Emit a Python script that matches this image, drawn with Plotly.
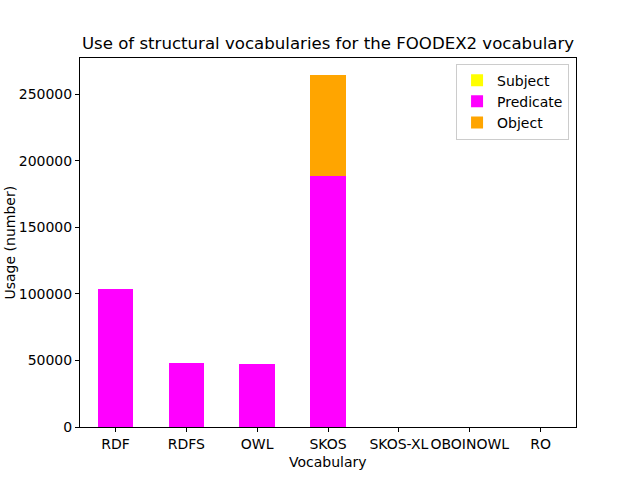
import plotly.graph_objects as go

categories = ["RDF", "RDFS", "OWL", "SKOS", "SKOS-XL", "OBOINOWL", "RO"]
subject = [0, 0, 0, 0, 0, 0, 0]
predicate = [104000, 48400, 47700, 188700, 0, 0, 0]
obj = [0, 0, 0, 75800, 0, 0, 0]
y_ticks = [0, 50000, 100000, 150000, 200000, 250000]

FONT = "DejaVu Sans"
fig = go.Figure()
for name, vals, color in [("Subject", subject, "#ffff00"),
                          ("Predicate", predicate, "#ff00ff"),
                          ("Object", obj, "#ffa500")]:
    fig.add_trace(go.Bar(x=list(range(len(categories))), y=vals, name=name,
                         marker=dict(color=color, line=dict(width=0)), width=0.5))

fig.update_layout(
    barmode="stack",
    width=640, height=480,
    margin=dict(l=80, r=64, t=58, b=53, autoexpand=False),
    paper_bgcolor="white", plot_bgcolor="white",
    font=dict(family=FONT, size=14, color="black"),
    title=dict(text="Use of structural vocabularies for the FOODEX2 vocabulary",
               x=(80 + 576) / 2 / 640, xanchor="center", y=1 - 43 / 480, yanchor="middle",
               font=dict(size=16.6, family=FONT, color="black")),
    showlegend=True,
    legend=dict(x=0.986, xanchor="right", y=0.985, yanchor="top",
                bordercolor="#cccccc", borderwidth=1, bgcolor="rgba(255,255,255,0.8)",
                font=dict(size=14, family=FONT), traceorder="normal", tracegroupgap=0),
    xaxis=dict(range=[-0.5, 6.5], tickmode="array", tickvals=list(range(len(categories))),
               ticktext=categories, tickangle=0, showline=True, linecolor="black", linewidth=1,
               mirror=True, ticks="outside", ticklen=4, tickcolor="black", showgrid=False,
               zeroline=False, automargin=False),
    yaxis=dict(range=[0, 277200], tickmode="array", tickvals=y_ticks,
               ticktext=[str(v) for v in y_ticks], showline=True, linecolor="black", linewidth=1,
               mirror=True, ticks="outside", ticklen=4, tickcolor="black", showgrid=False,
               zeroline=False, automargin=False),
    annotations=[
        dict(text="Vocabulary", xref="paper", yref="paper", x=0.5, y=-(462 - 427) / 369,
             xanchor="center", yanchor="middle", showarrow=False, font=dict(size=14, family=FONT)),
        dict(text="Usage (number)", xref="paper", yref="paper", x=-(80 - 9) / 496,
             y=0.5, xanchor="center", yanchor="middle", textangle=-90,
             showarrow=False, font=dict(size=14, family=FONT)),
    ],
)
fig.write_html("out.html", config={"displayModeBar": False},
               post_script="document.body.style.margin='0';")
